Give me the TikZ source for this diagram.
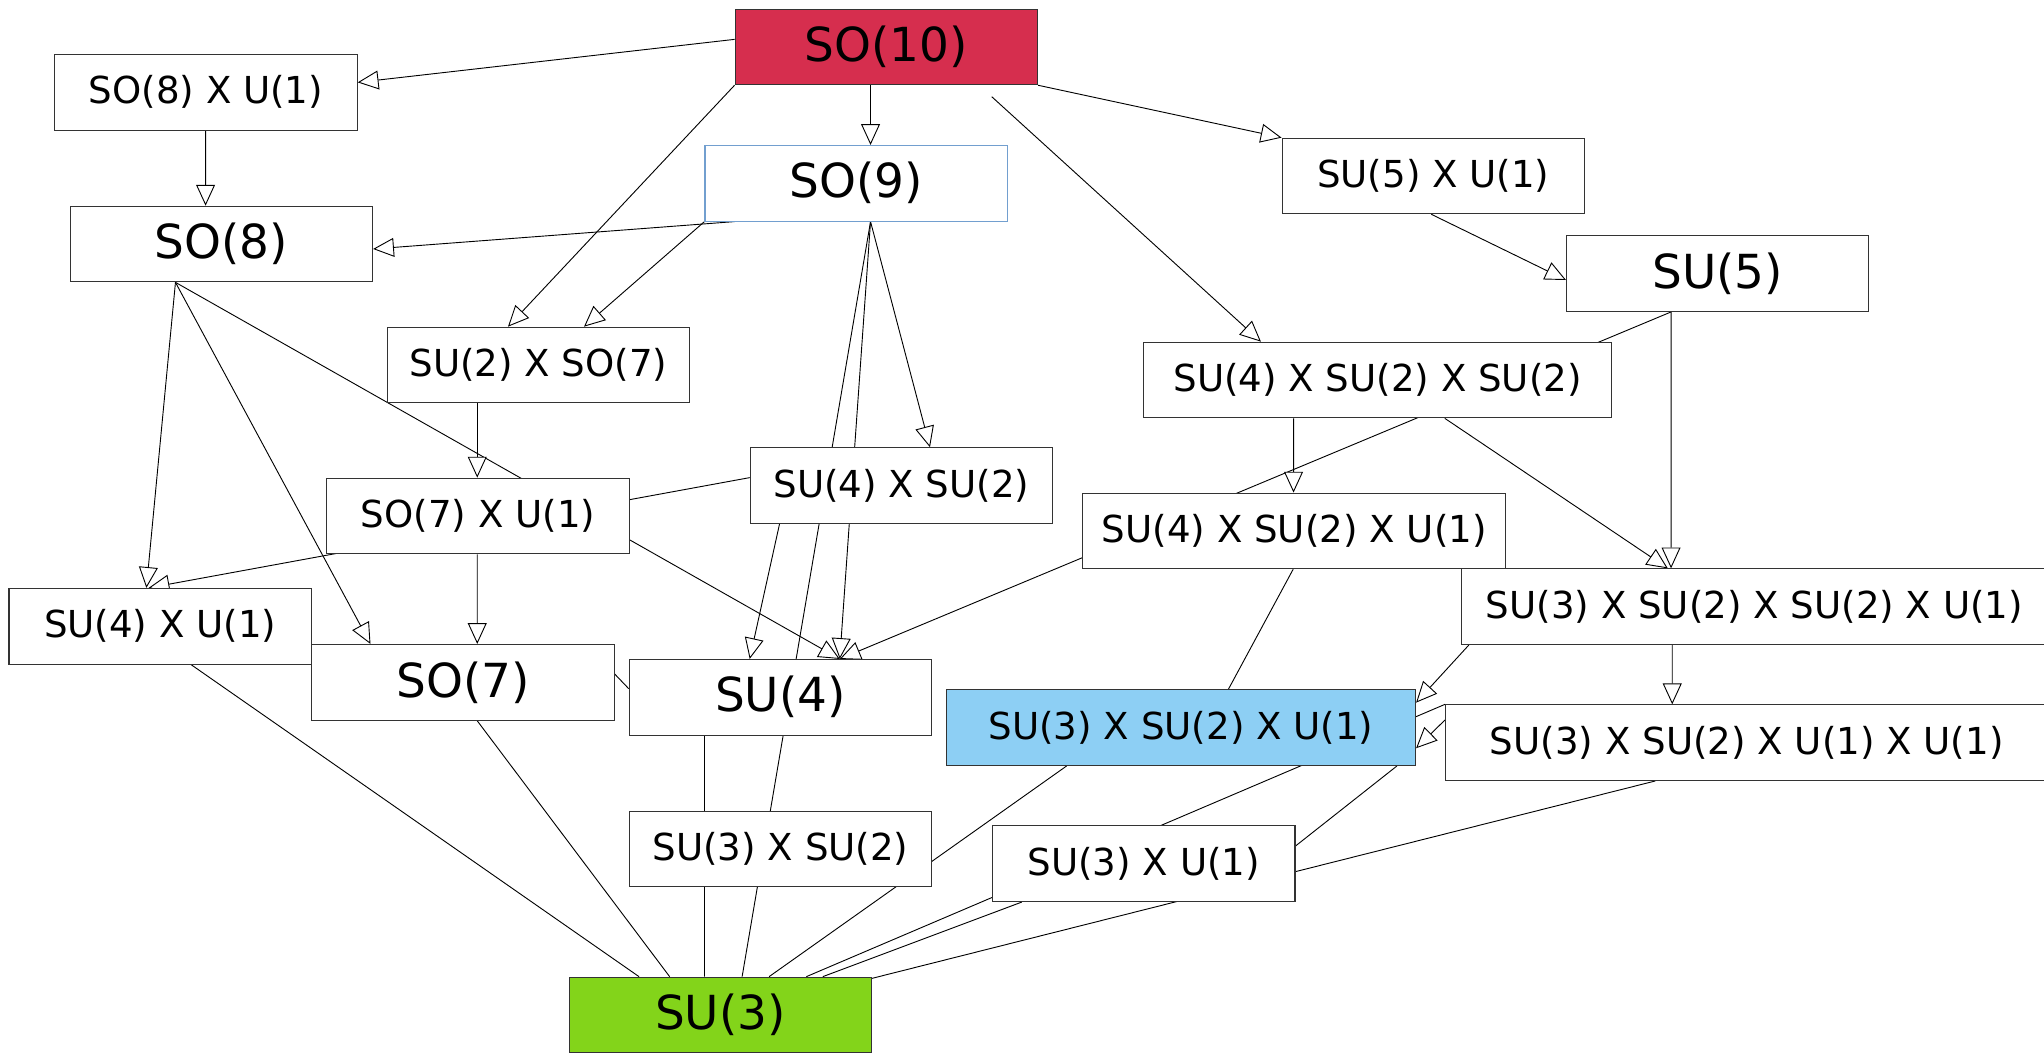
\documentclass[tikz,border=0pt]{standalone}
\usepackage{fontspec}
\setmainfont{DejaVu Sans}
\usetikzlibrary{arrows.meta,calc}
\pgfdeclarelayer{bg}
\pgfsetlayers{bg,main}
\definecolor{redfill}{HTML}{D62E4E}
\definecolor{bluefill}{HTML}{8DCFF4}
\definecolor{greenfill}{HTML}{83D41A}
\definecolor{blueline}{HTML}{729FCF}
\definecolor{boxline}{HTML}{333333}
\begin{document}
\begin{tikzpicture}[x=1pt,y=-1pt,
  box/.style={draw=boxline, line width=0.8pt, fill=white, rectangle, inner sep=0pt,
    anchor=north west, minimum height=58pt, minimum width=232pt,
    font=\fontsize{28.5}{32}\selectfont},
  bigbox/.style={box, font=\fontsize{36}{40}\selectfont},
  arr/.style={line width=0.7pt, -{Triangle[length=16pt,width=14.5pt,fill=white]}},
  ln/.style={line width=0.7pt}]
\useasboundingbox (0,0) rectangle (1568,810);
\clip (0,0) rectangle (1568,810);
% nodes
\node[bigbox, fill=redfill, minimum height=57.7pt] (so10) at (563.5,6.9) {SO(10)};
\node[box] (so8u1) at (41.6,41.4) {SO(8) X U(1)};
\node[bigbox, draw=blueline] (so9) at (540.4,111.2) {SO(9)};
\node[box] (su5u1) at (983.1,105.6) {SU(5) X U(1)};
\node[bigbox] (so8) at (53.4,157.8) {SO(8)};
\node[bigbox] (su5) at (1201.3,180.5) {SU(5)};
\node[box] (su2so7) at (296.6,250.6) {SU(2) X SO(7)};
\node[box, minimum width=359pt] (su4su2su2) at (876.9,262.1) {SU(4) X SU(2) X SU(2)};
\node[box] (su4su2) at (575.1,343.1) {SU(4) X SU(2)};
\node[box] (so7u1) at (250.3,366.4) {SO(7) X U(1)};
\node[box, minimum width=324.4pt] (su4su2u1) at (830.3,377.9) {SU(4) X SU(2) X U(1)};
\node[box, minimum width=450.2pt] (su3su2su2u1) at (1120.4,436) {SU(3) X SU(2) X SU(2) X U(1)};
\node[box] (su4u1) at (6.5,451) {SU(4) X U(1)};
\node[bigbox] (so7) at (238.7,494) {SO(7)};
\node[bigbox] (su4) at (482.3,505.5) {SU(4)};
\node[box, minimum width=359.8pt, fill=bluefill] (su3su2u1) at (725.7,528.8) {SU(3) X SU(2) X U(1)};
\node[box, minimum width=462.2pt] (su3su2u1u1) at (1108.5,540.3) {SU(3) X SU(2) X U(1) X U(1)};
\node[box] (su3su2) at (482.4,621.9) {SU(3) X SU(2)};
\node[box] (su3u1) at (761,633.2) {SU(3) X U(1)};
\node[bigbox, fill=greenfill] (su3) at (436.2,749.2) {SU(3)};
% helper coordinates
\coordinate (c1) at ($(so10.south west)+(197.3,8.8)$);
\coordinate (su4tip) at ($(su4.north west)+(161.9,0)$);
\coordinate (so9b) at ($(so9.south west)+(127.4,0)$);
\coordinate (so8b) at ($(so8.south west)+(81.2,0)$);
\coordinate (su5b) at ($(su5.south west)+(80.6,0)$);
\begin{pgfonlayer}{bg}
% arrows
\draw[arr] ($(so10.north west)+(0,23.3)$) -- ($(so8u1.north east)+(0,21.8)$);
\draw[arr] ($(so10.south west)+(104.3,0)$) -- ($(so9.north west)+(127.4,0)$);
\draw[arr] (so10.south east) -- (su5u1.north west);
\draw[arr] (so10.south west) -- ($(su2so7.north west)+(93.1,0)$);
\draw[arr] (c1) -- ($(su4su2su2.north west)+(90.4,0)$);
\draw[arr] ($(so8u1.south west)+(116.1,0)$) -- ($(so8.north west)+(104.3,0)$);
\draw[arr] ($(so9.south west)+(23.1,0)$) -- ($(so8.north east)+(0,33.2)$);
\draw[arr] (so9.south west) -- ($(su2so7.north west)+(151.4,0)$);
\draw[arr] (so9b) -- ($(su4su2.north west)+(138.3,0)$);
\draw[arr] (so9b) -- (su4tip);
\draw[arr] ($(su5u1.south west)+(114.9,0)$) -- ($(su5.north west)+(0,34.3)$);
\draw[arr] (so8b) -- ($(su4u1.north west)+(105.8,0)$);
\draw[arr] (so8b) -- ($(so7.north west)+(45.5,0)$);
\draw[arr] (so8b) -- (su4tip);
\draw[arr] ($(su2so7.south west)+(69.5,0)$) -- ($(so7u1.north west)+(115.8,0)$);
\draw[arr] ($(so7u1.south west)+(115.8,0)$) -- ($(so7.north west)+(127.4,0)$);
\draw[arr] ($(su4su2.north west)+(0,23.3)$) -- ($(su4u1.north west)+(107.5,0)$);
\draw[arr] ($(su4su2.south west)+(22.9,0)$) -- ($(su4.north west)+(92.8,0)$);
\draw[arr] (su5b) -- (su4tip);
\draw[arr] (su5b) -- ($(su3su2su2u1.north west)+(161.5,0)$);
\draw[arr] ($(su4su2su2.south west)+(115.4,0)$) -- ($(su4su2u1.north west)+(162,0)$);
\draw[arr] ($(su4su2su2.south west)+(231.4,0)$) -- ($(su3su2su2u1.north west)+(159,0)$);
\draw[arr] ($(su3su2su2u1.south west)+(162.4,0)$) -- ($(su3su2u1u1.north west)+(174.3,0)$);
\draw[arr] ($(su3su2su2u1.south west)+(6.4,0)$) -- ($(su3su2u1.north east)+(0,10.2)$);
\draw[arr] ($(su3su2u1u1.north west)+(0,12)$) -- ($(su3su2u1.north east)+(0,45.2)$);
% plain lines
\draw[ln] ($(so7.north east)+(0,23)$) -- ($(su4.north west)+(0,22.8)$);
\draw[ln] ($(su4u1.south west)+(140,0)$) -- ($(su3.north west)+(54,0)$);
\draw[ln] ($(so7.south west)+(127.3,0)$) -- ($(su3.north west)+(77.5,0)$);
\draw[ln] ($(su4.south west)+(58.1,0)$) -- ($(su3.north west)+(104.2,0)$);
\draw[ln] (so9b) -- ($(su3.north west)+(133.1,0)$);
\draw[ln] ($(su3su2u1.south west)+(92.5,0)$) -- ($(su3.north west)+(153.8,0)$);
\draw[ln] (su3su2u1u1.north west) -- ($(su3.north west)+(182.4,0)$);
\draw[ln] ($(su3u1.south west)+(22.8,0)$) -- ($(su3.north west)+(195,0)$);
\draw[ln] ($(su3su2u1u1.south west)+(161.3,0)$) -- ($(su3.north east)+(0,1.3)$);
\draw[ln] ($(su3su2u1.south west)+(345.9,0)$) -- ($(su3u1.north east)+(0,15.8)$);
\draw[ln] ($(su4su2u1.south west)+(161.7,0)$) -- ($(su3su2u1.north west)+(216.6,0)$);
\end{pgfonlayer}
\end{tikzpicture}
\end{document}
